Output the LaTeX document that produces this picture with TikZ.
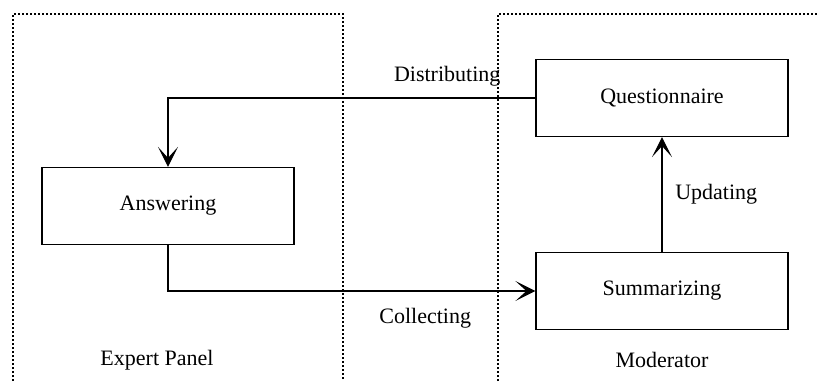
\documentclass[tikz,border=0pt]{standalone}
\usepackage{fontspec}
\setmainfont{Liberation Serif}
\usetikzlibrary{arrows.meta,positioning}
\tikzset{font=\fontsize{11}{13}\selectfont}
\tikzstyle{stage}=[draw,line width=0.6pt,minimum width=126pt,minimum height=38.5pt,inner sep=0pt]
\tikzstyle{panel}=[line width=0.7pt,dash pattern=on 1pt off 1pt]
\begin{document}
\begin{tikzpicture}[x=0.5pt,y=0.5pt]
\useasboundingbox (0,0) rectangle (818,381);
% panels
\draw[panel] (13,0) -- (13,367) -- (343,367) -- (343,0);
\draw[panel] (498,0) -- (498,367) -- (818,367);
\node (EP) at (157,21) {Expert Panel};
\node (MO) at (662,21) {Moderator};
% stages
\node[stage] (Ans) at (168,175) {Answering};
\node[stage] (Que) at (662,283) {Questionnaire};
\node[stage] (Sum) at (662,90) {Summarizing};
\begin{scope}[->,line width=0.6pt,>={Stealth[length=10pt,width=10pt,inset=5.5pt]}]
\draw (Que.west) -| node[pos=0.12,above=2pt]{Distributing} (Ans.north);
\draw (Ans.south) |- node[pos=0.85,below=5pt]{Collecting} (Sum.west);
\draw (Sum) -- node[right=3pt]{Updating} (Que);
\end{scope}
\end{tikzpicture}
\end{document}
